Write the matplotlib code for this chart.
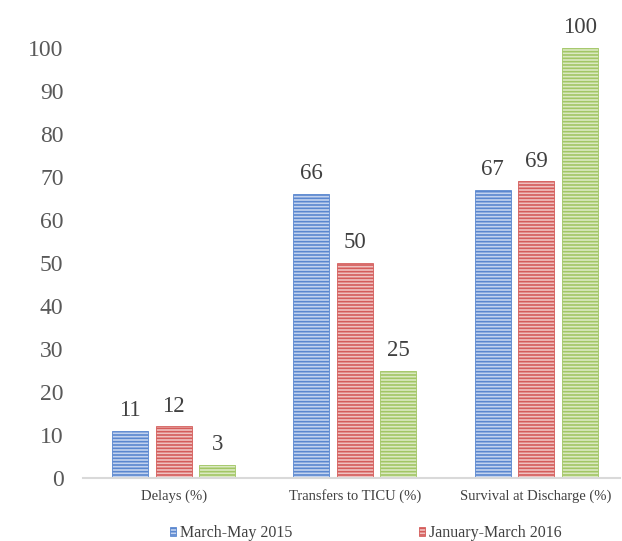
import numpy as np
import matplotlib.pyplot as plt

plt.rcParams['font.family'] = ['Liberation Serif', 'DejaVu Serif']
plt.rcParams['hatch.linewidth'] = 1.2

# data
categories = ["Delays (%)", "Transfers to TICU (%)", "Survival at Discharge (%)"]
series = ["March-May 2015", "January-March 2016", "April-June 2016"]
mar_may_2015 = [11, 66, 67]
jan_mar_2016 = [12, 50, 69]
third_period = [3, 25, 100]
values = [mar_may_2015, jan_mar_2016, third_period]

face_colors = ["#c3d3ef", "#efc1c0", "#dbe9c2"]
line_colors = ["#5a87cf", "#d45c5a", "#a2c665"]

fig = plt.figure(figsize=(6.22, 5.41), dpi=100)
ax = fig.add_axes([83/622, (541-478)/541, (620-83)/622, (478-20)/541])

x = np.arange(len(categories))
width = 0.198
step = 0.24

handles = []
for i, (vals, name) in enumerate(zip(values, series)):
    pos = x + (i - 1) * step
    bars = ax.bar(pos, vals, width, label=name, facecolor=face_colors[i],
                  edgecolor=line_colors[i], hatch='-----', linewidth=0.6)
    handles.append(bars)
    for b, v in zip(bars, vals):
        ax.annotate(str(v), (b.get_x() + b.get_width()/2, v), xytext=(0, 7),
                    textcoords='offset points', ha='center', va='bottom',
                    fontsize=16.5, color='#404040')

ax.set_xlim(-0.5, (620-173)/181.5)
ax.set_ylim(0, (478-20)/4.3)
ax.set_yticks(np.arange(0, 101, 10))
ax.set_xticks(x)
ax.set_xticklabels(categories, fontsize=10.5, color='#404040')
ax.tick_params(axis='y', length=0, labelsize=17, labelcolor='#595959', pad=14)
ax.tick_params(axis='x', length=0, pad=8)

for s in ['top', 'right', 'left']:
    ax.spines[s].set_visible(False)
ax.spines['bottom'].set_color('#d9d9d9')
ax.spines['bottom'].set_linewidth(1.5)

# only the first two legend entries fit inside the picture
fig.legend(handles[:2], series[:2], loc='upper left',
           bbox_to_anchor=(170/622, (541-525)/541), ncol=2,
           frameon=False, fontsize=11.5, handlelength=0.4, handleheight=0.45,
           handletextpad=0.25, columnspacing=7.9, labelcolor='#404040',
           borderpad=0, borderaxespad=0)

fig.savefig('out.png', dpi=100)
